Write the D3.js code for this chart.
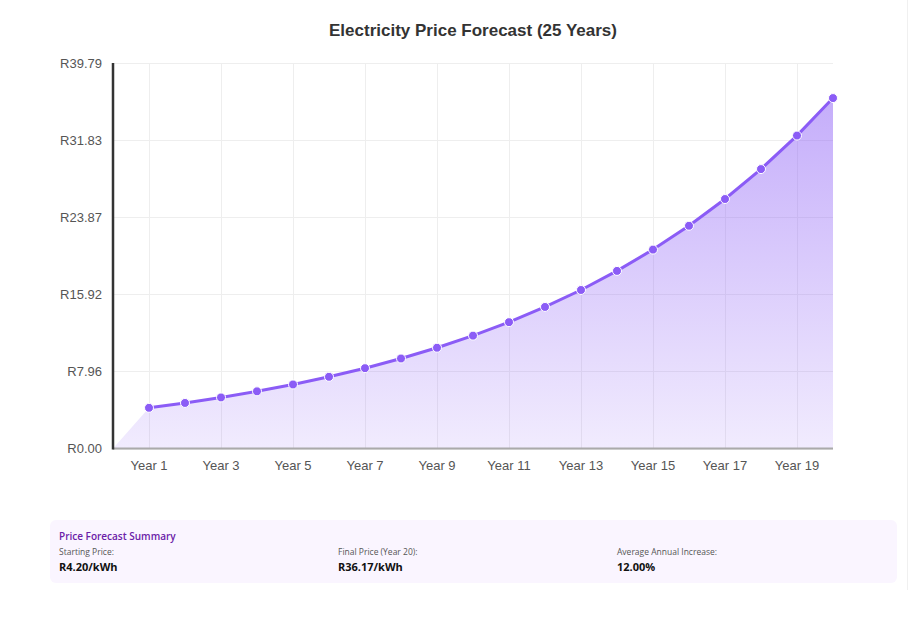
<!DOCTYPE html>
<html>
<head>
<meta charset="utf-8">
<script src="https://cdn.jsdelivr.net/npm/d3@7"></script>
<style>
  body { margin: 0; background: #fff; }
  svg { display: block; }
</style>
</head>
<body>
<div id="chart"></div>
<script>
// yearly price forecast (R/kWh)
var years = ["Year 1", "Year 2", "Year 3", "Year 4", "Year 5", "Year 6", "Year 7", "Year 8", "Year 9", "Year 10",
             "Year 11", "Year 12", "Year 13", "Year 14", "Year 15", "Year 16", "Year 17", "Year 18", "Year 19", "Year 20"];
var prices = [4.20, 4.70, 5.27, 5.90, 6.61, 7.40, 8.29, 9.29, 10.40, 11.65,
              13.04, 14.61, 16.36, 18.33, 20.53, 22.99, 25.75, 28.84, 32.30, 36.17];
var yMax = 39.79;
var yTicks = [0, 7.958, 15.916, 23.874, 31.832, 39.79];
var shownYears = ["Year 1", "Year 3", "Year 5", "Year 7", "Year 9", "Year 11", "Year 13", "Year 15", "Year 17", "Year 19"];
var summaryLabels = ["Starting Price:", "Final Price (Year 20):", "Average Annual Increase:"];

var width = 917, height = 626,
    plotL = 113, plotR = 833, plotT = 63, plotB = 448.5;

var svg = d3.select("#chart").append("svg")
    .attr("width", width)
    .attr("height", height);

// faint page edge on the right
svg.append("line")
    .attr("x1", 907.5).attr("x2", 907.5).attr("y1", 0).attr("y2", 590)
    .attr("stroke", "#f0f0f0").attr("stroke-width", 1);

var x = d3.scaleLinear().domain([0, years.length]).range([plotL, plotR]);
var y = d3.scaleLinear().domain([0, yMax]).range([plotB, plotT]);
var xi = function (name) { return x(years.indexOf(name) + 1); };

// title
svg.append("text")
    .attr("x", 473).attr("y", 36)
    .attr("text-anchor", "middle")
    .style("font", "bold 17px 'Liberation Sans', Arial, sans-serif")
    .style("fill", "#333")
    .text("Electricity Price Forecast (25 Years)");

// grid
var grid = svg.append("g");
grid.selectAll(".hg").data(yTicks).enter().append("line")
    .attr("x1", plotL).attr("x2", plotR)
    .attr("y1", function (d) { return Math.round(y(d)) + 0.5; })
    .attr("y2", function (d) { return Math.round(y(d)) + 0.5; })
    .attr("stroke", "#eeeeee");
grid.selectAll(".vg").data(shownYears).enter().append("line")
    .attr("x1", function (d) { return Math.round(xi(d)) + 0.5; })
    .attr("x2", function (d) { return Math.round(xi(d)) + 0.5; })
    .attr("y1", plotT).attr("y2", plotB)
    .attr("stroke", "#eeeeee");

// area gradient
var defs = svg.append("defs");
var grad = defs.append("linearGradient")
    .attr("id", "fillGrad")
    .attr("x1", 0).attr("y1", 0).attr("x2", 0).attr("y2", 1);
grad.append("stop").attr("offset", "0%").attr("stop-color", "#8b5cf6").attr("stop-opacity", 0.5);
grad.append("stop").attr("offset", "100%").attr("stop-color", "#8b5cf6").attr("stop-opacity", 0.12);

var areaPts = [[0, 0]].concat(prices.map(function (p, i) { return [i + 1, p]; }));
var area = d3.area()
    .x(function (d) { return x(d[0]); })
    .y0(y(0))
    .y1(function (d) { return y(d[1]); });
svg.append("path")
    .datum(areaPts)
    .attr("d", area)
    .attr("fill", "url(#fillGrad)");

// axes
var yAxis = svg.append("g")
    .attr("transform", "translate(" + plotL + ",0)")
    .call(d3.axisLeft(y).tickValues(yTicks).tickSize(0).tickPadding(11)
        .tickFormat(function (d) { return "R" + d.toFixed(2); }));
yAxis.select(".domain").remove();
yAxis.selectAll("text")
    .style("font", "13px 'Liberation Sans', Arial, sans-serif")
    .style("fill", "#555");

var xAxis = svg.append("g")
    .attr("transform", "translate(0," + plotB + ")");
xAxis.append("line")
    .attr("x1", plotL).attr("x2", plotR).attr("y1", 0).attr("y2", 0)
    .attr("stroke", "#aaa").attr("stroke-width", 2);
xAxis.selectAll("text").data(shownYears).enter().append("text")
    .attr("x", function (d) { return xi(d); })
    .attr("y", 21)
    .attr("text-anchor", "middle")
    .style("font", "13px 'Liberation Sans', Arial, sans-serif")
    .style("fill", "#555")
    .text(function (d) { return d; });
// left axis line drawn over the x axis
svg.append("line")
    .attr("x1", plotL).attr("x2", plotL).attr("y1", plotT).attr("y2", plotB + 1)
    .attr("stroke", "#333").attr("stroke-width", 2.5);

// line + points
var line = d3.line()
    .x(function (d, i) { return x(i + 1); })
    .y(function (d) { return y(d); });
svg.append("path")
    .datum(prices)
    .attr("d", line)
    .attr("fill", "none")
    .attr("stroke", "#8b5cf6")
    .attr("stroke-width", 3);
svg.selectAll(".pt").data(prices).enter().append("circle")
    .attr("cx", function (d, i) { return x(i + 1); })
    .attr("cy", function (d) { return y(d); })
    .attr("r", 4.5)
    .attr("fill", "#8b5cf6")
    .attr("stroke", "#fff")
    .attr("stroke-width", 1);

// summary box
var first = prices[0], last = prices[prices.length - 1];
var avg = (Math.pow(last / first, 1 / (prices.length - 1)) - 1) * 100;
var summaryValues = ["R" + first.toFixed(2) + "/kWh", "R" + last.toFixed(2) + "/kWh", avg.toFixed(2) + "%"];

var box = svg.append("g");
box.append("rect")
    .attr("x", 50).attr("y", 520).attr("width", 847).attr("height", 63)
    .attr("rx", 6)
    .attr("fill", "#faf5ff");
box.append("text")
    .attr("x", 59).attr("y", 540)
    .style("font", "600 10px 'Open Sans', 'Noto Sans', sans-serif")
    .style("fill", "#6b21a8")
    .text("Price Forecast Summary");
var cols = box.selectAll(".col").data(summaryLabels).enter().append("g")
    .attr("transform", function (d, i) { return "translate(" + (59 + i * 279) + ",0)"; });
cols.append("text")
    .attr("y", 555)
    .style("font", "8.5px 'Open Sans', 'Noto Sans', sans-serif")
    .style("fill", "#555")
    .text(function (d) { return d; });
cols.append("text")
    .attr("y", 571)
    .style("font", "bold 11px 'Open Sans', 'Noto Sans', sans-serif")
    .style("fill", "#111")
    .text(function (d, i) { return summaryValues[i]; });
</script>
</body>
</html>
